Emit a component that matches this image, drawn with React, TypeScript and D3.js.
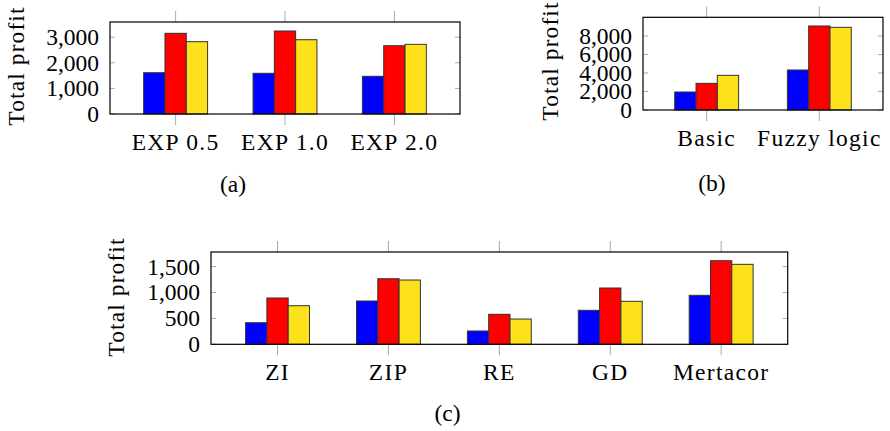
import * as d3 from "d3";

// (a) exponent variants
const aCategories = ["EXP 0.5", "EXP 1.0", "EXP 2.0"];
const aBlue = [1613, 1590, 1473];
const aRed = [3152, 3242, 2668];
const aYellow = [2825, 2902, 2721];
const aTicks = [0, 1000, 2000, 3000];

// (b) basic vs fuzzy logic
const bCategories = ["Basic", "Fuzzy logic"];
const bBlue = [1946, 4324];
const bRed = [2883, 9081];
const bYellow = [3748, 8937];
const bTicks = [0, 2000, 4000, 6000, 8000];

// (c) strategies
const cCategories = ["ZI", "ZIP", "RE", "GD", "Mertacor"];
const cBlue = [417, 836, 257, 656, 946];
const cRed = [894, 1266, 579, 1087, 1614];
const cYellow = [745, 1241, 488, 830, 1544];
const cTicks = [0, 500, 1000, 1500];

const COLORS = ["#0000ff", "#ff0000", "#fce11b"];
const FONT = "'Liberation Serif', 'DejaVu Serif', serif";
const fmt = d3.format(",");

function Panel({ cats, series, ticks, yMax, left, right, top, bottom, barW, pad, caption, capX, capY, labX, labY }) {
  const x = d3.scalePoint().domain(cats).range([left, right]).padding(pad);
  const y = d3.scaleLinear().domain([0, yMax]).range([bottom, top]);
  const n = series.length;
  return (
    <g fontFamily={FONT} fontSize={23.5} fill="#000">
      {/* x ticks sit outside the frame, top and bottom */}
      {cats.map((c) => (
        <g key={"xt" + c} stroke="#aaa" strokeWidth={1}>
          <line x1={x(c)} x2={x(c)} y1={top - 11} y2={top} />
          <line x1={x(c)} x2={x(c)} y1={bottom} y2={bottom + 11} />
        </g>
      ))}
      {/* y ticks inside on both sides */}
      {ticks.map((t) => (
        <g key={"yt" + t} stroke="#aaa" strokeWidth={1}>
          <line x1={left} x2={left + 5} y1={y(t)} y2={y(t)} />
          <line x1={right - 5} x2={right} y1={y(t)} y2={y(t)} />
        </g>
      ))}
      {cats.map((c, i) =>
        series.map((s, k) => (
          <rect
            key={c + k}
            x={x(c) - (n * barW) / 2 + k * barW}
            y={y(s[i])}
            width={barW}
            height={y(0) - y(s[i])}
            fill={COLORS[k]}
            stroke="#333"
            strokeWidth={1}
          />
        ))
      )}
      <rect x={left} y={top} width={right - left} height={bottom - top} fill="none" stroke="#000" strokeWidth={1.2} />
      {ticks.map((t) => (
        <text key={"yl" + t} x={left - 11} y={y(t)} dy="0.34em" textAnchor="end">
          {fmt(t)}
        </text>
      ))}
      {cats.map((c) => (
        <text key={"xl" + c} x={x(c)} y={bottom + 36} textAnchor="middle" letterSpacing={1.3}>
          {c}
        </text>
      ))}
      <text transform={`translate(${labX},${labY}) rotate(-90)`} textAnchor="middle" dy="0.35em" letterSpacing={1.1}>
        Total profit
      </text>
      <text x={capX} y={capY} dy="0.35em" textAnchor="middle">
        {caption}
      </text>
    </g>
  );
}

export default function App() {
  return (
    <svg width={890} height={431} style={{ position: "absolute", left: 0, top: 0, background: "#fff" }}>
      <Panel
        cats={aCategories}
        series={[aBlue, aRed, aYellow]}
        ticks={aTicks}
        yMax={3594}
        left={110}
        right={460}
        top={22}
        bottom={114}
        barW={21.3}
        pad={0.6}
        caption="(a)"
        capX={233}
        capY={184}
        labX={16}
        labY={66}
      />
      <Panel
        cats={bCategories}
        series={[bBlue, bRed, bYellow]}
        ticks={bTicks}
        yMax={10020}
        left={643}
        right={883}
        top={17.3}
        bottom={110}
        barW={21.3}
        pad={0.565}
        caption="(b)"
        capX={712}
        capY={183}
        labX={550}
        labY={61}
      />
      <Panel
        cats={cCategories}
        series={[cBlue, cRed, cYellow]}
        ticks={cTicks}
        yMax={1782}
        left={211}
        right={787.7}
        top={252}
        bottom={344.3}
        barW={21.3}
        pad={0.6}
        caption="(c)"
        capX={447.5}
        capY={412.7}
        labX={116}
        labY={297}
      />
    </svg>
  );
}
